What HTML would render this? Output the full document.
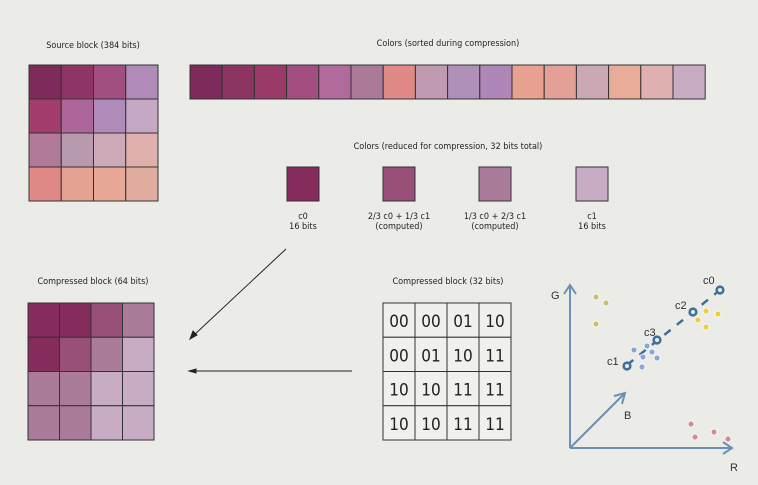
<!DOCTYPE html>
<html><head><meta charset="utf-8"><style>
body{margin:0;background:#ebebe7;}
svg{display:block;font-family:"DejaVu Sans Condensed","Liberation Sans",sans-serif;}
</style></head><body>
<svg width="758" height="485" viewBox="0 0 758 485">
<rect width="758" height="485" fill="#ebebe7"/>
<g font-size="9" fill="#222" text-anchor="middle">
<text x="93" y="48">Source block (384 bits)</text>
<text x="448" y="46">Colors (sorted during compression)</text>
<text x="448" y="149">Colors (reduced for compression, 32 bits total)</text>
<text x="93" y="284">Compressed block (64 bits)</text>
<text x="448" y="284">Compressed block (32 bits)</text>
<text x="303" y="219">c0</text><text x="303" y="229">16 bits</text>
<text x="399" y="219">2/3 c0 + 1/3 c1</text><text x="399" y="229">(computed)</text>
<text x="495" y="219">1/3 c0 + 2/3 c1</text><text x="495" y="229">(computed)</text>
<text x="592" y="219">c1</text><text x="592" y="229">16 bits</text>
</g>
<g id="g" stroke="#333" stroke-width="1"></g>
<g stroke="#222" stroke-width="1" fill="#222">
<line x1="286" y1="249" x2="193" y2="336"/>
<polygon points="190,339 193,331 197,335"/>
<line x1="352" y1="371" x2="193" y2="371"/>
<polygon points="189,371 196,369 196,373"/>
</g>
<g stroke="#6c8fb5" stroke-width="2" fill="none">
<path d="M570,448 V286 M564,294 L570,285 L576,294"/>
<path d="M570,448 H731 M723,442 L732,448 L723,454"/>
<path d="M570,448 L624,394 M614,396 L625,393 L622,404"/>
</g>
<g font-size="11" fill="#333" font-family="Liberation Sans,sans-serif">
<text x="551" y="299">G</text><text x="730" y="471">R</text><text x="624" y="419">B</text>
<text x="703" y="284">c0</text><text x="675" y="309">c2</text><text x="644" y="336">c3</text><text x="607" y="365">c1</text>
</g>
<line x1="627" y1="365" x2="720" y2="290" stroke="#3f6f9a" stroke-width="2.5" stroke-dasharray="8,8"/>
<g id="pts"></g>
</svg>
<script>
const sourceColors=["#7e2a5a","#8f3565","#a14e80","#b08ab8","#a33d6e","#ac6699","#b08ab8","#c4a8c4","#b07a98","#b89aae","#cdaab8","#e0b0ad","#e08a88","#e4a292","#e8a898","#e0aca0"];
const sortedColors=["#7e2a5a","#8c3462","#9a3a68","#a24e80","#b06a9c","#aa7a98","#e08a88","#c09ab0","#b090b8","#ae86b8","#e8a090","#e4a096","#caa8b4","#e8ac98","#e0b0b0","#c8acc4"];
const paletteColors=["#852c5c","#985078","#aa7c9a","#c8acc4"];
const indexCodes=["00","00","01","10","00","01","10","11","10","10","11","11","10","10","11","11"];
const codeToPalette={"00":0,"01":1,"10":2,"11":3};
const g=document.getElementById('g');const NS="http://www.w3.org/2000/svg";
function rect(x,y,w,h,f,name){const r=document.createElementNS(NS,'rect');r.setAttribute('x',x);r.setAttribute('y',y);r.setAttribute('width',w);r.setAttribute('height',h);r.setAttribute('fill',f);


g.appendChild(r);return r;}
sourceColors.forEach((c,i)=>rect(29+(i%4)*32.25,65+Math.floor(i/4)*34,32.25,34,c,'source-cell'));
sortedColors.forEach((c,i)=>rect(190+i*32.2,65,32.2,34,c,'sorted-cell'));
paletteColors.forEach((c,i)=>rect([287,383,479,576][i],167,32,34,c,'palette-swatch'));
indexCodes.forEach((code,i)=>{const x=28+(i%4)*31.5,y=303+Math.floor(i/4)*34.25;rect(x,y,31.5,34.25,paletteColors[codeToPalette[code]],'compressed-cell');});
indexCodes.forEach((code,i)=>{const x=383+(i%4)*32,y=303+Math.floor(i/4)*34.25;rect(x,y,32,34.25,'#f0f0ec','index-cell');
const t=document.createElementNS(NS,'text');t.setAttribute('x',x+16);t.setAttribute('y',y+24);t.setAttribute('text-anchor','middle');t.setAttribute('font-size','17');t.setAttribute('stroke','none');t.setAttribute('fill','#222');t.textContent=code;


g.appendChild(t);});
const yellowX=[596,606,596,706,718,698,706],yellowY=[297,303,324,311,314,320,327];
const blueX=[634,647,643,657,652,642],blueY=[350,346,357,358,352,367];
const redX=[691,695,714,728],redY=[424,437,432,439];
const keyX=[627,657,693,720],keyY=[366,340,312,290];
const P=document.getElementById('pts');
function dot(x,y,f,r,name){const c=document.createElementNS(NS,'circle');c.setAttribute('cx',x);c.setAttribute('cy',y);c.setAttribute('r',r);c.setAttribute('fill',f);c.setAttribute('stroke','#fff');c.setAttribute('stroke-width',0.8);


P.appendChild(c);}
function ring(x,y){const c=document.createElementNS(NS,'circle');c.setAttribute('cx',x);c.setAttribute('cy',y);c.setAttribute('r',3.3);c.setAttribute('fill','#e8eef4');c.setAttribute('stroke','#3f6f9a');c.setAttribute('stroke-width',2.6);


P.appendChild(c);}
yellowX.forEach((x,i)=>dot(x,yellowY[i],i<3?'#c8c070':'#e8d040',3,'yellow-point'));
blueX.forEach((x,i)=>dot(x,blueY[i],'#8aa6d4',3,'blue-point'));
redX.forEach((x,i)=>dot(x,redY[i],'#d88a90',3,'red-point'));
keyX.forEach((x,i)=>ring(x,keyY[i]));
</script>
</body></html>
